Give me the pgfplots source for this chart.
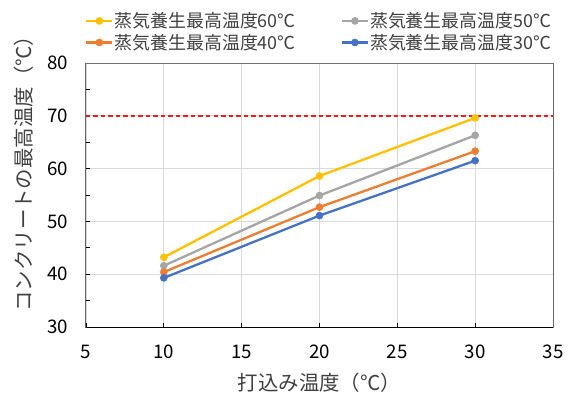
\documentclass[border=0pt]{standalone}
\usepackage{fontspec}
\setmainfont{Noto Sans CJK JP}
\usepackage{pgfplots}
\pgfplotsset{compat=1.18}
\definecolor{cY}{HTML}{FFC000}
\definecolor{cG}{HTML}{A5A5A5}
\definecolor{cO}{HTML}{ED7D31}
\definecolor{cB}{HTML}{4472C4}
\definecolor{gridgray}{HTML}{D9D9D9}
\definecolor{cR}{RGB}{235,30,30}
\definecolor{txt}{HTML}{404040}
\begin{document}
\begin{tikzpicture}
\begin{axis}[
  at={(0,0)}, anchor=south west,
  scale only axis, width=467bp, height=264bp,
  xmin=5, xmax=35, ymin=30, ymax=80,
  xtick={5,10,...,35}, ytick={30,40,...,80},
  minor y tick num=1,
  tick align=inside, tick pos=left,
  major tick length=4bp, minor tick length=4bp,
  grid=major, grid style={draw=gridgray, line width=0.8bp},
  axis line style={draw=black!55, line width=1bp},
  tick style={black, line width=0.8bp},
  /pgf/number format/assume math mode=true,
  yticklabel style={font=\fontsize{18.8}{20}\selectfont, inner sep=0pt, anchor=east, xshift=-18bp},
  xticklabel style={font=\fontsize{18.8}{20}\selectfont, inner sep=0pt, anchor=north, yshift=-18bp},
  xlabel={打込み温度（℃）},
  ylabel={コンクリートの最高温度（℃）},
  label style={font=\fontsize{20.5}{24}\selectfont, text=txt},
  xlabel style={at={(axis description cs:0.5,-0.212)}, anchor=center},
  ylabel style={at={(axis description cs:-0.133,0.6)}, anchor=center, rotate=0},
  legend columns=2,
  legend cell align=left,
  legend style={draw=none, fill=none, at={(axis description cs:0,1)}, anchor=south west,
    xshift=-1bp, yshift=11bp, inner sep=0pt, row sep=3bp, text=txt,
    font=\fontsize{18}{20}\selectfont, nodes={inner sep=1bp},
    /tikz/every even column/.append style={column sep=44bp}},
  legend image code/.code={\draw[#1, mark repeat=2, mark phase=2] plot coordinates {(0bp,0bp)(13bp,0bp)(26bp,0bp)};},
]
\addplot[color=cR, line width=1.4bp, dash pattern=on 4.5bp off 3bp, forget plot] coordinates {(5,70) (35,70)};
\addplot[cY, line width=2.3bp, mark=*, mark size=3.5bp, mark options={solid, fill=cY, draw=cY, line width=0.6bp}] coordinates {(10,43.2) (20,58.6) (30,69.6)};
\addlegendentry{蒸気養生最高温度60℃}
\addplot[cG, line width=2.3bp, mark=*, mark size=3.5bp, mark options={solid, fill=cG, draw=cG, line width=0.6bp}] coordinates {(10,41.6) (20,54.9) (30,66.3)};
\addlegendentry{蒸気養生最高温度50℃}
\addplot[cO, line width=2.3bp, mark=*, mark size=3.5bp, mark options={solid, fill=cO, draw=cO, line width=0.6bp}] coordinates {(10,40.4) (20,52.7) (30,63.3)};
\addlegendentry{蒸気養生最高温度40℃}
\addplot[cB, line width=2.3bp, mark=*, mark size=3.5bp, mark options={solid, fill=cB, draw=cB, line width=0.6bp}] coordinates {(10,39.3) (20,51.1) (30,61.5)};
\addlegendentry{蒸気養生最高温度30℃}
\draw[black, line width=1bp] (rel axis cs:0,1) -- (rel axis cs:0,0) -- (rel axis cs:1,0);
\draw[black!85, line width=1bp] (rel axis cs:1,0) -- (rel axis cs:1,1);
\end{axis}
\pgfresetboundingbox
\path[use as bounding box] (-86bp,-67bp) rectangle (484bp,327bp);
\end{tikzpicture}
\end{document}
